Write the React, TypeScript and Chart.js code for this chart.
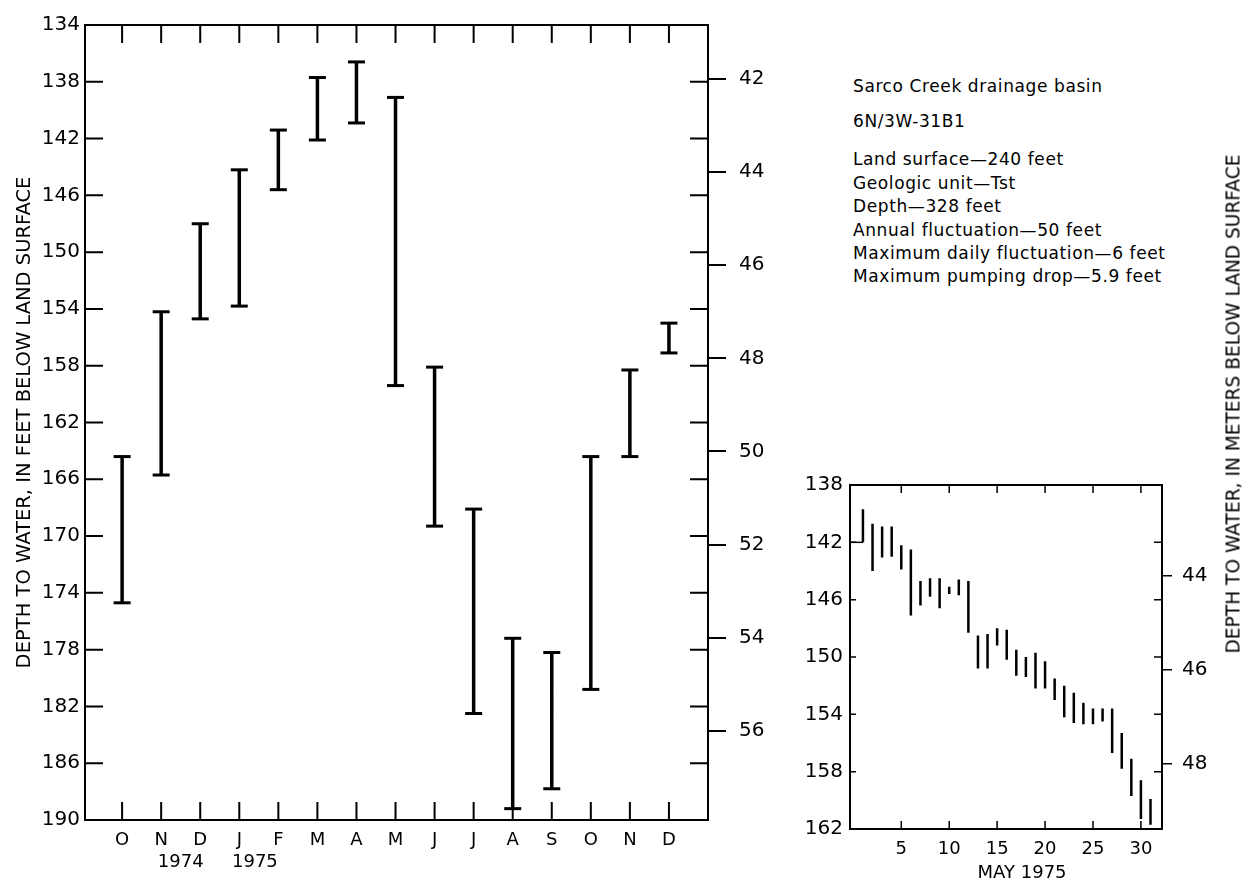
import React, { useEffect, useRef } from "react";
import { Chart, registerables } from "chart.js";

Chart.register(...registerables);

// ---------- data ----------
const MONTHS = ["O", "N", "D", "J", "F", "M", "A", "M", "J", "J", "A", "S", "O", "N", "D"];
const YEAR_LABELS = ["1974", "1975"];
const YEAR_ANCHORS = [1.5, 3.4];
const MONTH_HIGH = [164.4, 154.2, 148.0, 144.2, 141.4, 137.7, 136.6, 139.1, 158.1, 168.1, 177.2, 178.2, 164.4, 158.3, 155.0];
const MONTH_LOW = [174.7, 165.7, 154.7, 153.8, 145.6, 142.1, 140.9, 159.4, 169.3, 182.5, 189.2, 187.8, 180.8, 164.4, 157.1];
const FEET_TICKS = [134, 138, 142, 146, 150, 154, 158, 162, 166, 170, 174, 178, 182, 186, 190];
const METER_TICKS = [42, 44, 46, 48, 50, 52, 54, 56];

const DAYS = [1, 2, 3, 4, 5, 6, 7, 8, 9, 10, 11, 12, 13, 14, 15, 16, 17, 18, 19, 20, 21, 22, 23, 24, 25, 26, 27, 28, 29, 30, 31];
const DAY_HIGH = [139.7, 140.7, 140.9, 140.9, 142.2, 142.5, 144.7, 144.5, 144.5, 145.1, 144.6, 144.7, 148.5, 148.4, 148.0, 148.1, 149.5, 150.0, 149.7, 150.3, 151.5, 152.0, 152.5, 153.2, 153.6, 153.6, 153.6, 155.3, 157.1, 158.6, 159.9];
const DAY_LOW = [142.0, 144.0, 143.05, 143.0, 143.9, 147.1, 146.4, 145.8, 146.6, 145.6, 145.7, 148.3, 150.8, 150.8, 149.2, 150.2, 151.3, 151.4, 152.2, 152.2, 153.0, 154.2, 154.6, 154.7, 154.7, 154.5, 156.7, 157.8, 159.7, 161.3, 161.7];
const DAY_TICKS = [5, 10, 15, 20, 25, 30];
const INSET_FEET_TICKS = [138, 142, 146, 150, 154, 158, 162];
const INSET_METER_TICKS = [44, 46, 48];
const START_LEVEL = 142;

const FT_PER_M = 3.2808399;

const INFO_HEAD = ["Sarco Creek drainage basin", "6N/3W-31B1"];
const INFO_LINES = [
  "Land surface\u2014240 feet",
  "Geologic unit\u2014Tst",
  "Depth\u2014328 feet",
  "Annual fluctuation\u201450 feet",
  "Maximum daily fluctuation\u20146 feet",
  "Maximum pumping drop\u20145.9 feet",
];
const LEFT_TITLE = "DEPTH TO WATER, IN FEET BELOW LAND SURFACE";
const RIGHT_TITLE = "DEPTH TO WATER, IN METERS BELOW LAND SURFACE";
const INSET_TITLE = ["MAY 1975"];
const INSET_TITLE_ANCHOR = [17.6];

const FONT = '"DejaVu Sans", "Liberation Sans", sans-serif';

// ---------- plugin: frame + inward ticks + extra axis texts ----------
const frameTicks = {
  id: "frameTicks",
  afterDraw(chart: any, _args: any, opts: any) {
    const { ctx, chartArea: a, scales } = chart;
    ctx.save();
    ctx.strokeStyle = "#000";
    ctx.lineWidth = opts.tickWidth;
    ctx.beginPath();
    for (const v of opts.xTicks) {
      const px = scales.x.getPixelForValue(v);
      ctx.moveTo(px, a.top);
      ctx.lineTo(px, a.top + opts.lenX);
      ctx.moveTo(px, a.bottom);
      ctx.lineTo(px, a.bottom - opts.lenX);
    }
    for (const v of opts.yTicks) {
      const py = scales.y.getPixelForValue(v);
      ctx.moveTo(a.left, py);
      ctx.lineTo(a.left + opts.lenLeft, py);
      ctx.moveTo(a.right, py);
      ctx.lineTo(a.right - opts.lenRight, py);
    }
    ctx.stroke();
    ctx.lineWidth = opts.frameWidth;
    ctx.strokeRect(a.left, a.top, a.right - a.left, a.bottom - a.top);
    if (opts.labels) {
      ctx.fillStyle = "#000";
      ctx.font = `18px ${FONT}`;
      ctx.textAlign = "center";
      ctx.textBaseline = "middle";
      opts.labels.forEach((t: string, i: number) => {
        ctx.fillText(t, scales.x.getPixelForValue(opts.anchors[i]), opts.labelY);
      });
    }
    ctx.restore();
  },
};

function rangePoints(xs: number[], hi: number[], lo: number[]) {
  const pts: any[] = [];
  xs.forEach((x, i) => {
    pts.push({ x, y: hi[i] });
    pts.push({ x, y: lo[i] });
    pts.push({ x, y: null });
  });
  return pts;
}

export default function App() {
  const mainRef = useRef<HTMLCanvasElement>(null);
  const insetRef = useRef<HTMLCanvasElement>(null);

  useEffect(() => {
    document.body.style.margin = "0";
    Chart.defaults.font.family = FONT;
    Chart.defaults.color = "#000";

    const MAIN_W = 790, MAIN_H = 884;
    const main = new Chart(mainRef.current!, {
      type: "line",
      data: {
        datasets: [
          {
            data: rangePoints(MONTHS.map((_, i) => i), MONTH_HIGH, MONTH_LOW),
            borderColor: "#000",
            borderWidth: 3.5,
            spanGaps: false,
            pointStyle: "line",
            pointRadius: 8.5,
            pointBorderWidth: 3,
            pointBorderColor: "#000",
          } as any,
        ],
      },
      options: {
        responsive: false,
        animation: false,
        events: [],
        layout: { padding: { top: 15, left: 0, right: 0, bottom: 0 } },
        plugins: {
          legend: { display: false },
          tooltip: { enabled: false },
          frameTicks: {
            xTicks: MONTHS.map((_, i) => i),
            yTicks: FEET_TICKS,
            lenX: 18,
            lenLeft: 18,
            lenRight: 18,
            tickWidth: 2,
            frameWidth: 2,
            labels: YEAR_LABELS,
            anchors: YEAR_ANCHORS,
            labelY: 862,
          },
        } as any,
        scales: {
          x: {
            type: "linear",
            min: -0.95,
            max: 15,
            afterBuildTicks: (s: any) => {
              s.ticks = MONTHS.map((_, i) => ({ value: i }));
            },
            afterFit: (s: any) => {
              s.height = MAIN_H - 820;
            },
            grid: { display: false, drawTicks: false },
            border: { display: false },
            ticks: {
              autoSkip: false,
              maxRotation: 0,
              padding: 10,
              font: { size: 18 },
              callback: (v: any) => MONTHS[v] ?? "",
            },
          },
          y: {
            type: "linear",
            position: "left",
            min: 134,
            max: 190,
            reverse: true,
            afterBuildTicks: (s: any) => {
              s.ticks = FEET_TICKS.map((v) => ({ value: v }));
            },
            afterFit: (s: any) => {
              s.width = 85;
            },
            grid: { display: false, drawTicks: false },
            border: { display: false },
            ticks: { padding: 5, font: { size: 20 } },
            title: {
              display: true,
              text: LEFT_TITLE,
              font: { size: 19.5 },
              padding: { top: 13, bottom: 0 },
            },
          },
          y2: {
            type: "linear",
            position: "right",
            min: 134 / FT_PER_M,
            max: 190 / FT_PER_M,
            reverse: true,
            afterBuildTicks: (s: any) => {
              s.ticks = METER_TICKS.map((v) => ({ value: v }));
            },
            afterFit: (s: any) => {
              s.width = MAIN_W - 708;
            },
            grid: {
              display: true,
              drawOnChartArea: false,
              drawTicks: true,
              tickLength: 18,
              lineWidth: 2,
              color: "#000",
            },
            border: { display: false },
            ticks: { padding: 13, font: { size: 20 }, callback: (v: any) => String(v) },
          },
        },
      },
      plugins: [frameTicks as any],
    });

    const IN_W = 470, IN_H = 444;
    const X_MIN = -0.35;
    const inset = new Chart(insetRef.current!, {
      type: "line",
      data: {
        datasets: [
          {
            data: rangePoints(DAYS, DAY_HIGH, DAY_LOW),
            borderColor: "#000",
            borderWidth: 2.5,
            spanGaps: false,
            pointRadius: 0,
          } as any,
          {
            data: [
              { x: X_MIN, y: START_LEVEL },
              { x: DAYS[0], y: START_LEVEL },
            ],
            borderColor: "#000",
            borderWidth: 1.5,
            pointRadius: 0,
          } as any,
        ],
      },
      options: {
        responsive: false,
        animation: false,
        events: [],
        layout: { padding: { top: 45, left: 0, right: 0, bottom: 0 } },
        plugins: {
          legend: { display: false },
          tooltip: { enabled: false },
          frameTicks: {
            xTicks: DAY_TICKS,
            yTicks: INSET_FEET_TICKS,
            lenX: 8,
            lenLeft: 6,
            lenRight: 8,
            tickWidth: 1.5,
            frameWidth: 2,
            labels: INSET_TITLE,
            anchors: INSET_TITLE_ANCHOR,
            labelY: 433,
          },
        } as any,
        scales: {
          x: {
            type: "linear",
            min: X_MIN,
            max: 32.2,
            afterBuildTicks: (s: any) => {
              s.ticks = DAY_TICKS.map((v) => ({ value: v }));
            },
            afterFit: (s: any) => {
              s.height = IN_H - 389;
            },
            grid: { display: false, drawTicks: false },
            border: { display: false },
            ticks: { autoSkip: false, maxRotation: 0, padding: 10, font: { size: 18 } },
          },
          y: {
            type: "linear",
            position: "left",
            min: 138,
            max: 162,
            reverse: true,
            afterBuildTicks: (s: any) => {
              s.ticks = INSET_FEET_TICKS.map((v) => ({ value: v }));
            },
            afterFit: (s: any) => {
              s.width = 70;
            },
            grid: { display: false, drawTicks: false },
            border: { display: false },
            ticks: { padding: 7, font: { size: 20 } },
          },
          y2: {
            type: "linear",
            position: "right",
            min: 138 / FT_PER_M,
            max: 162 / FT_PER_M,
            reverse: true,
            afterBuildTicks: (s: any) => {
              s.ticks = INSET_METER_TICKS.map((v) => ({ value: v }));
            },
            afterFit: (s: any) => {
              s.width = IN_W - 382;
            },
            grid: {
              display: true,
              drawOnChartArea: false,
              drawTicks: true,
              tickLength: 10,
              lineWidth: 1.5,
              color: "#000",
            },
            border: { display: false },
            ticks: { padding: 10, font: { size: 20 }, callback: (v: any) => String(v) },
          },
        },
      },
      plugins: [frameTicks as any],
    });

    return () => {
      main.destroy();
      inset.destroy();
    };
  }, []);

  const textStyle: React.CSSProperties = {
    position: "absolute",
    left: 853,
    fontFamily: FONT,
    fontSize: 17,
    letterSpacing: "0.6px",
    lineHeight: "23.4px",
    whiteSpace: "nowrap",
    color: "#000",
  };

  return (
    <div style={{ position: "relative", width: 1250, height: 884, background: "#fff", overflow: "hidden" }}>
      <canvas ref={mainRef} width={790} height={884} style={{ position: "absolute", left: 0, top: 0, display: "block" }} />
      <canvas ref={insetRef} width={470} height={444} style={{ position: "absolute", left: 780, top: 440, display: "block" }} />
      <div style={{ ...textStyle, top: 75.4 }}>{INFO_HEAD[0]}</div>
      <div style={{ ...textStyle, top: 110.4 }}>{INFO_HEAD[1]}</div>
      <div style={{ ...textStyle, top: 148.4 }}>
        {INFO_LINES.map((l, i) => (
          <div key={i}>{l}</div>
        ))}
      </div>
      <div
        style={{
          position: "absolute",
          left: 1233,
          top: 404,
          transform: "translate(-50%, -50%) rotate(-90deg)",
          fontFamily: FONT,
          fontSize: 18.6,
          whiteSpace: "nowrap",
          color: "#000",
        }}
      >
        {RIGHT_TITLE}
      </div>
    </div>
  );
}
